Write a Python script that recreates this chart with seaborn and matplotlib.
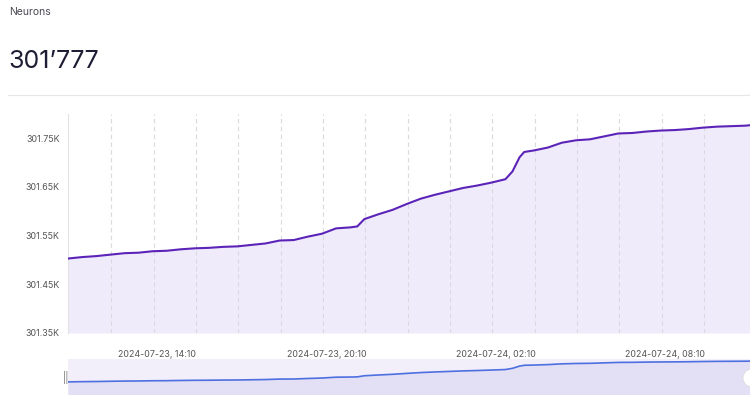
import pandas as pd
import matplotlib.pyplot as plt
import matplotlib.dates as mdates
import matplotlib.ticker as mticker
from matplotlib.patches import Ellipse
import seaborn as sns

# data (neuron count, 30-min samples)
times = ['2024-07-23 11:00', '2024-07-23 11:30', '2024-07-23 12:00', '2024-07-23 12:30',
         '2024-07-23 13:00', '2024-07-23 13:30', '2024-07-23 14:00', '2024-07-23 14:30',
         '2024-07-23 15:00', '2024-07-23 15:30', '2024-07-23 16:00', '2024-07-23 16:30',
         '2024-07-23 17:00', '2024-07-23 17:30', '2024-07-23 18:00', '2024-07-23 18:30',
         '2024-07-23 19:00', '2024-07-23 19:30', '2024-07-23 20:00', '2024-07-23 20:30',
         '2024-07-23 21:00', '2024-07-23 21:15', '2024-07-23 21:30', '2024-07-23 22:00',
         '2024-07-23 22:30', '2024-07-23 23:00', '2024-07-23 23:30', '2024-07-24 00:00',
         '2024-07-24 00:30', '2024-07-24 01:00', '2024-07-24 01:30', '2024-07-24 02:00',
         '2024-07-24 02:30', '2024-07-24 02:45', '2024-07-24 03:00', '2024-07-24 03:10',
         '2024-07-24 03:30', '2024-07-24 04:00', '2024-07-24 04:30', '2024-07-24 05:00',
         '2024-07-24 05:30', '2024-07-24 06:00', '2024-07-24 06:30', '2024-07-24 07:00',
         '2024-07-24 07:30', '2024-07-24 08:00', '2024-07-24 08:30', '2024-07-24 09:00',
         '2024-07-24 09:30', '2024-07-24 10:00', '2024-07-24 10:30', '2024-07-24 11:00',
         '2024-07-24 11:10']
neurons = [301503, 301506, 301508, 301511, 301514, 301515, 301518, 301519,
           301522, 301524, 301525, 301527, 301528, 301531, 301534, 301540,
           301541, 301548, 301554, 301565, 301567, 301569, 301584, 301594,
           301603, 301615, 301626, 301634, 301641, 301648, 301653, 301659,
           301666, 301682, 301711, 301722, 301725, 301731, 301741, 301746,
           301748, 301754, 301760, 301761, 301764, 301766, 301767, 301769,
           301772, 301774, 301775, 301776, 301777]

y_ticks = [301350, 301450, 301550, 301650, 301750]
x_labels = ['2024-07-23 14:10', '2024-07-23 20:10', '2024-07-24 02:10', '2024-07-24 08:10']

df = pd.DataFrame({'time': pd.to_datetime(times), 'neurons': neurons})

sns.set_theme(style='white')
plt.rcParams['font.family'] = ['Inter', 'DejaVu Sans']

W, H = 750, 395
fig = plt.figure(figsize=(7.5, 3.95), dpi=100)
fig.patch.set_facecolor('white')

line_col = '#5b23b8'
fill_col = '#efebfb'
text_col = '#555555'
grid_col = '#d9d9de'
t0, t1 = pd.Timestamp('2024-07-23 11:00'), pd.Timestamp('2024-07-24 11:10')

# header
fig.text(9 / W, 1 - 12 / H, 'Neurons', fontsize=7.5, color='#4a4a55', va='center')
fig.text(8 / W, 1 - 62 / H, '301\u2019777', fontsize=18, color='#1d1d35', va='center')
fig.add_artist(plt.Line2D([8 / W, 1], [1 - 95 / H] * 2, color='#e6e6e6', lw=0.8))

# main chart
ax = fig.add_axes([68 / W, 62 / H, 1 - 68 / W, 219 / H])
ax.fill_between(df['time'], 301350, df['neurons'], color=fill_col, lw=0, zorder=1)
sns.lineplot(data=df, x='time', y='neurons', ax=ax, color=line_col, lw=1.5, zorder=3)
ax.set_xlim(t0, t1)
ax.set_ylim(301350, 301800)
ax.set_yticks(y_ticks)
ax.yaxis.set_major_formatter(mticker.FuncFormatter(lambda v, p: f'{v / 1000:.2f}K'))
ax.set_xticks(pd.to_datetime(x_labels))
ax.xaxis.set_major_formatter(mdates.DateFormatter('%Y-%m-%d, %H:%M'))
ax.tick_params(axis='x', length=0, pad=12, labelsize=6.4, labelcolor=text_col)
ax.tick_params(axis='y', length=0, pad=6, labelsize=6.4, labelcolor=text_col)
for g in pd.date_range('2024-07-23 12:32', periods=15, freq='90min'):
    ax.axvline(g, color=grid_col, ls=(0, (4, 3)), lw=0.8, zorder=2)
ax.set_xlabel('')
ax.set_ylabel('')
for s in ['top', 'right', 'bottom']:
    ax.spines[s].set_visible(False)
ax.spines['left'].set_color('#e2e2e6')
ax.spines['left'].set_linewidth(0.8)

# navigator
nav = fig.add_axes([68 / W, 0, 1 - 68 / W, 36 / H])
nav.set_facecolor('#f2effb')
nav.fill_between(df['time'], 301330, df['neurons'], color='#e3dff5', lw=0)
sns.lineplot(data=df, x='time', y='neurons', ax=nav, color='#4d6fe0', lw=1.2)
nav.set_xlim(t0, t1)
nav.set_ylim(301330, 301805)
nav.set_xticks([])
nav.set_yticks([])
nav.set_xlabel('')
nav.set_ylabel('')
for s in nav.spines.values():
    s.set_visible(False)

fig.text(66 / W, 1 - 378 / H, '||', fontsize=7, color='#777777', ha='center', va='center')
fig.add_artist(Ellipse((752 / W, 1 - 378 / H), 18 / W, 18 / H, transform=fig.transFigure,
                       facecolor='white', edgecolor='#dddddd', lw=0.6))

fig.savefig('out.png', dpi=100)
